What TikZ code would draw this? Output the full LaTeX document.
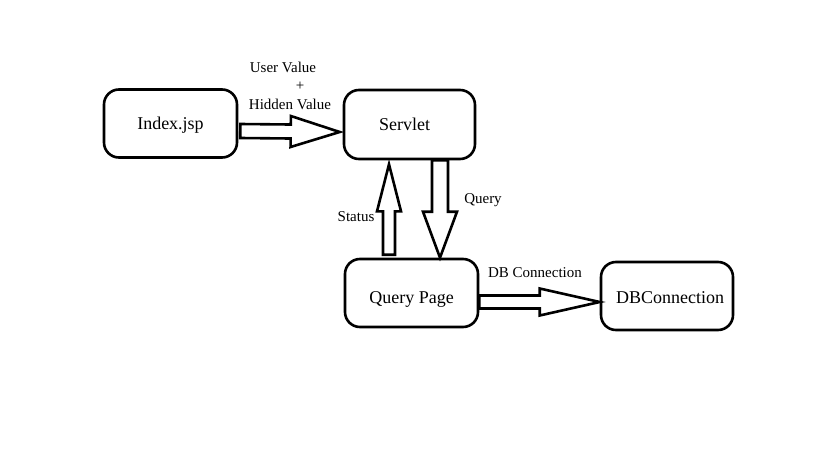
\documentclass[tikz,border=0pt]{standalone}
\usepackage{fontspec}
\setmainfont{Liberation Serif}
\usetikzlibrary{calc}
\tikzset{
  box/.style={draw=black, line width=2.6pt, rounded corners=15pt, minimum width=#1, minimum height=68pt, inner sep=0pt, text height=12pt, text depth=0pt, font=\fontsize{18}{21}\selectfont},
  box/.default=132pt,
  barr/.style={draw=black, line width=2.6pt, line join=miter, fill=white},
  lbl/.style={font=\fontsize{15}{17}\selectfont, inner sep=0pt}
}
% #1 start, #2 tip, #3 shaft half width, #4 head half width, #5 head length
\newcommand\blockarrow[5]{%
  \coordinate (tmpbase) at ($(#2)!#5!(#1)$);
  \draw[barr] ($(#1)!#3!90:(#2)$) -- ($(tmpbase)!#3!90:(#2)$) -- ($(tmpbase)!#4!90:(#2)$)
    -- (#2) -- ($(tmpbase)!#4!-90:(#2)$) -- ($(tmpbase)!#3!-90:(#2)$) -- ($(#1)!#3!-90:(#2)$) -- cycle;
}
\begin{document}
\begin{tikzpicture}[x=1pt,y=-1pt]
\path[use as bounding box, fill=white] (0,0) rectangle (819,460);

\node[box=133pt] (index) at (170.5,123.5) {Index.jsp};
\node[box=131pt, minimum height=69pt] (servlet) at (409.5,124.5) {\hspace*{-10pt}Servlet};
\node[box=133pt, text height=20pt] (query) at (411.5,293) {Query Page};
\node[box=132pt, text height=14pt] (db) at (667,296) {\hspace*{6pt}DBConnection};

% Index -> Servlet
\coordinate (a1s) at ($(index.east)+(2,7.5)$);
\coordinate (a1t) at ($(servlet.west)+(-3,7.5)$);
\blockarrow{a1s}{a1t}{7pt}{15.5pt}{49pt}

% Query Page -> Servlet (Status)
\coordinate (a2s) at ($(query.north -| 389,0)+(0,-3)$);
\coordinate (a2t) at ($(servlet.south -| 389,0)+(0,4)$);
\blockarrow{a2s}{a2t}{6pt}{12pt}{47pt}

% Servlet -> Query Page (Query)
\coordinate (a3s) at (servlet.south -| 440,0);
\coordinate (a3t) at (query.north -| 440,0);
\blockarrow{a3s}{a3t}{8pt}{17pt}{46pt}

% Query Page -> DBConnection
\coordinate (a4s) at ($(query.east)+(0,9)$);
\coordinate (a4t) at ($(db.west)+(0,6)$);
\blockarrow{a4s}{a4t}{6.5pt}{13.5pt}{60pt}

\node[lbl] (uv) at (283,67) {User Value};
\node[lbl] (plus) at (300,86) {+};
\node[lbl] (hv) at (290,104) {Hidden Value};
\node[lbl] (st) at (356,217) {Status};
\node[lbl] (qy) at (483,200) {Query};
\node[lbl] (dbc) at (535,273) {DB Connection};
\end{tikzpicture}
\end{document}
